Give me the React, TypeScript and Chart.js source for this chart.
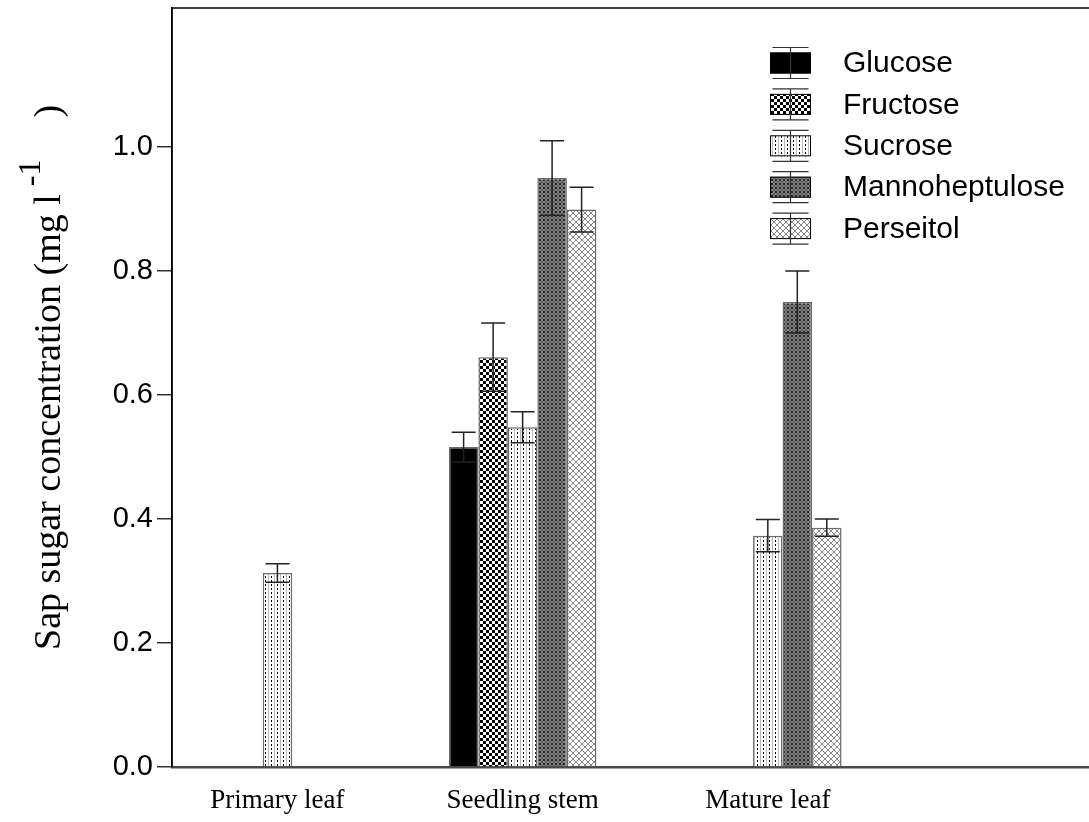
import React, { useEffect, useRef } from 'react';
import { Chart, registerables } from 'chart.js';

Chart.register(...registerables);

// ---- data ----
const categories = ['Primary leaf', 'Seedling stem', 'Mature leaf'];
const categoryPositions = [1, 2, 3];
const seriesNames = ['Glucose', 'Fructose', 'Sucrose', 'Mannoheptulose', 'Perseitol'];

const glucose: (number | null)[] = [null, 0.516, null];
const glucoseErr: (number | null)[] = [null, 0.024, null];
const fructose: (number | null)[] = [null, 0.661, null];
const fructoseErr: (number | null)[] = [null, 0.055, null];
const sucrose: (number | null)[] = [0.313, 0.548, 0.373];
const sucroseErr: (number | null)[] = [0.015, 0.025, 0.026];
const mannoheptulose: (number | null)[] = [null, 0.95, 0.75];
const mannoheptuloseErr: (number | null)[] = [null, 0.06, 0.05];
const perseitol: (number | null)[] = [null, 0.899, 0.386];
const perseitolErr: (number | null)[] = [null, 0.036, 0.014];

const yTickValues = [0, 0.2, 0.4, 0.6, 0.8, 1.0];
const yTitleMain = 'Sap sugar concentration (mg l';
const yTitleSup = '-1';
const yTitleEnd = ')';

const SERIF = '"Liberation Serif", "Times New Roman", Times, serif';
const SANS = '"Liberation Sans", Arial, Helvetica, sans-serif';

function tile(w: number, h: number, draw: (c: CanvasRenderingContext2D) => void) {
  const cv = document.createElement('canvas');
  cv.width = w;
  cv.height = h;
  const c = cv.getContext('2d')!;
  draw(c);
  return cv;
}

function makePatterns(ctx: CanvasRenderingContext2D): (string | CanvasPattern)[] {
  const checker = tile(6, 6, (c) => {
    c.fillStyle = '#fff';
    c.fillRect(0, 0, 6, 6);
    c.fillStyle = '#000';
    c.fillRect(0, 0, 3, 3);
    c.fillRect(3, 3, 3, 3);
  });
  const dashed = tile(6, 4, (c) => {
    c.fillStyle = '#fff';
    c.fillRect(0, 0, 6, 4);
    c.fillStyle = '#000';
    c.fillRect(1, 0, 1, 2);
    c.fillStyle = '#b8b8b8';
    c.fillRect(4, 0, 1, 4);
  });
  const dots = tile(4, 4, (c) => {
    c.fillStyle = '#1e1e1e';
    c.fillRect(0, 0, 4, 4);
    c.strokeStyle = '#a8a8a8';
    c.lineWidth = 1;
    c.beginPath();
    c.arc(2, 2, 1.4, 0, Math.PI * 2);
    c.stroke();
  });
  const cross = tile(6, 6, (c) => {
    c.fillStyle = '#fff';
    c.fillRect(0, 0, 6, 6);
    c.strokeStyle = '#858585';
    c.lineWidth = 1;
    c.beginPath();
    c.moveTo(0, 0);
    c.lineTo(6, 6);
    c.moveTo(0, 6);
    c.lineTo(6, 0);
    c.stroke();
  });
  return [
    '#000000',
    ctx.createPattern(checker, 'repeat')!,
    ctx.createPattern(dashed, 'repeat')!,
    ctx.createPattern(dots, 'repeat')!,
    ctx.createPattern(cross, 'repeat')!,
  ];
}

const errorBarPlugin = {
  id: 'errorBars',
  afterDatasetsDraw(chart: any) {
    const ctx = chart.ctx;
    const y = chart.scales.y;
    ctx.save();
    ctx.strokeStyle = '#222';
    ctx.lineWidth = 1.5;
    chart.data.datasets.forEach((ds: any, di: number) => {
      const meta = chart.getDatasetMeta(di);
      meta.data.forEach((el: any, i: number) => {
        const p = ds.data[i];
        if (p == null || p.e == null) return;
        const top = y.getPixelForValue(p.y + p.e);
        const bot = y.getPixelForValue(p.y - p.e);
        const half = 12;
        ctx.beginPath();
        ctx.moveTo(el.x, top);
        ctx.lineTo(el.x, bot);
        ctx.moveTo(el.x - half, top);
        ctx.lineTo(el.x + half, top);
        ctx.moveTo(el.x - half, bot);
        ctx.lineTo(el.x + half, bot);
        ctx.stroke();
      });
    });
    ctx.restore();
  },
};

const framePlugin = {
  id: 'frameTop',
  afterDraw(chart: any) {
    const { ctx, chartArea } = chart;
    ctx.save();
    ctx.strokeStyle = '#000';
    ctx.lineWidth = 1.5;
    ctx.beginPath();
    ctx.moveTo(chartArea.left, chartArea.top);
    ctx.lineTo(chartArea.right, chartArea.top);
    ctx.moveTo(chartArea.left, chartArea.top);
    ctx.lineTo(chartArea.left, chartArea.bottom);
    ctx.stroke();
    ctx.restore();
  },
};

const legendPlugin = {
  id: 'customLegend',
  afterDraw(chart: any) {
    const ctx = chart.ctx;
    const x0 = 770;
    const boxW = 41;
    const boxH = 21;
    const y0 = 63;
    const step = 41.4;
    ctx.save();
    chart.data.datasets.forEach((ds: any, i: number) => {
      const cy = y0 + i * step;
      const top = cy - boxH / 2;
      ctx.fillStyle = ds.backgroundColor;
      ctx.fillRect(x0, top, boxW, boxH);
      ctx.strokeStyle = '#000';
      ctx.lineWidth = 1;
      ctx.strokeRect(x0 + 0.5, top + 0.5, boxW - 1, boxH - 1);
      const cx = x0 + boxW / 2;
      ctx.strokeStyle = '#333';
      ctx.lineWidth = 1.2;
      ctx.beginPath();
      ctx.moveTo(cx, top - 5);
      ctx.lineTo(cx, top + boxH + 5);
      ctx.moveTo(cx - 18, top - 5);
      ctx.lineTo(cx + 18, top - 5);
      ctx.moveTo(cx - 18, top + boxH + 5);
      ctx.lineTo(cx + 18, top + boxH + 5);
      ctx.stroke();
      ctx.fillStyle = '#000';
      ctx.font = `30px ${SANS}`;
      ctx.textBaseline = 'middle';
      ctx.textAlign = 'left';
      ctx.fillText(ds.label, 843, cy + 1);
    });
    ctx.restore();
  },
};

const titlePlugin = {
  id: 'yTitle',
  afterDraw(chart: any) {
    const ctx = chart.ctx;
    ctx.save();
    ctx.translate(60, 650);
    ctx.rotate(-Math.PI / 2);
    ctx.fillStyle = '#000';
    ctx.textAlign = 'left';
    ctx.textBaseline = 'alphabetic';
    ctx.font = `38px ${SERIF}`;
    ctx.fillText(yTitleMain, 0, 0);
    let w = ctx.measureText(yTitleMain).width;
    ctx.font = `32px ${SERIF}`;
    ctx.fillText(yTitleSup, w + 8, -20);
    w += ctx.measureText(yTitleSup).width + 8;
    ctx.font = `38px ${SERIF}`;
    ctx.fillText(yTitleEnd, w + 42, 0);
    ctx.restore();
  },
};

export default function App() {
  const ref = useRef<HTMLCanvasElement>(null);
  useEffect(() => {
    const canvas = ref.current!;
    const ctx = canvas.getContext('2d')!;
    const fills = makePatterns(ctx);
    const values = [glucose, fructose, sucrose, mannoheptulose, perseitol];
    const errs = [glucoseErr, fructoseErr, sucroseErr, mannoheptuloseErr, perseitolErr];
    const datasets = seriesNames.map((name, si) => ({
      label: name,
      data: categoryPositions
        .map((x, ci) => ({ x, y: values[si][ci], e: errs[si][ci] }))
        .filter((p) => p.y !== null),
      backgroundColor: fills[si],
      borderColor: '#6a6a6a',
      borderWidth: 1.5,
      categoryPercentage: 0.6015,
      barPercentage: 1,
    }));
    const chart = new Chart(canvas, {
      type: 'bar',
      data: { datasets: datasets as any },
      options: {
        animation: false,
        responsive: true,
        maintainAspectRatio: false,
        layout: { padding: { top: 8, right: 0, left: 0, bottom: 0 } },
        plugins: { legend: { display: false }, tooltip: { enabled: false } },
        scales: {
          x: {
            type: 'linear',
            min: 0.57,
            max: 4.31,
            offset: false,
            grid: { display: false, drawTicks: false },
            border: { display: true, color: '#4a4a4a', width: 2.5 },
            ticks: {
              font: { family: SERIF, size: 27 },
              color: '#000',
              padding: 18,
              maxRotation: 0,
              autoSkip: false,
              callback: (v: any) => {
                const i = categoryPositions.indexOf(Number(v));
                return i >= 0 ? categories[i] : '';
              },
            },
            afterBuildTicks: (scale: any) => {
              scale.ticks = categoryPositions.map((v) => ({ value: v }));
            },
            afterFit: (scale: any) => {
              scale.height = 55;
              scale.paddingLeft = 0;
              scale.paddingRight = 0;
            },
          },
          y: {
            type: 'linear',
            min: 0,
            max: 1.2242,
            grid: {
              display: true,
              drawOnChartArea: false,
              drawTicks: true,
              tickLength: 15,
              color: '#333',
              lineWidth: 1.5,
            },
            border: { display: true, color: '#000', width: 1.5 },
            ticks: {
              font: { family: SANS, size: 29 },
              color: '#000',
              padding: 4,
              callback: (v: any) => Number(v).toFixed(1),
            },
            afterBuildTicks: (scale: any) => {
              scale.ticks = yTickValues.map((v) => ({ value: v }));
            },
            afterFit: (scale: any) => {
              scale.width = 172;
              scale.paddingTop = 0;
              scale.paddingBottom = 0;
            },
          },
        },
      },
      plugins: [errorBarPlugin, framePlugin, legendPlugin, titlePlugin],
    });
    return () => chart.destroy();
  }, []);
  return (
    <div style={{ position: 'absolute', left: 0, top: 0, width: 1089, height: 822, background: '#fff' }}>
      <canvas ref={ref} />
    </div>
  );
}
